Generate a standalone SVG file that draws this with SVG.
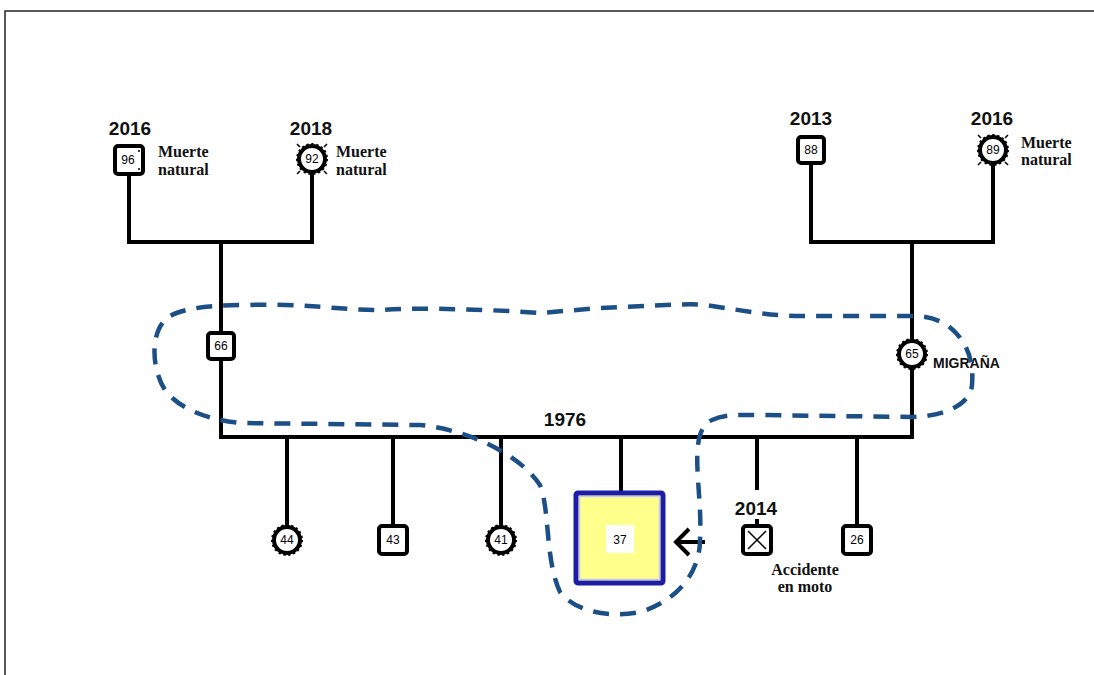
<svg xmlns="http://www.w3.org/2000/svg" width="1094" height="675" viewBox="0 0 1094 675">
<style>
.ln{stroke:#000;stroke-width:4;fill:none;stroke-linecap:square}
.sq{fill:#fff;stroke:#000;stroke-width:4}
.ci{fill:#fff;stroke:#000;stroke-width:4}
.cb{fill:none;stroke:#000;stroke-width:3;stroke-dasharray:2.2 2.6}
.num{font-family:"Liberation Sans",Arial,sans-serif;font-size:12px;text-anchor:middle;fill:#000}
.yr{font-family:"Liberation Sans",Arial,sans-serif;font-size:19px;font-weight:bold;text-anchor:middle;fill:#111}
.note{font-family:"Liberation Serif","Times New Roman",serif;font-size:16px;font-weight:bold;fill:#111}
.dash{fill:none;stroke:#1b4f86;stroke-width:4.5;stroke-dasharray:16 11}
.tick{stroke:#000;stroke-width:1.5}
</style>
<rect x="0" y="0" width="1094" height="675" fill="#fff"/>
<path d="M5,675 V11 H1094" fill="none" stroke="#222" stroke-width="1.5"/>
<g id="connectors">
<path class="ln" d="M129,174 V242 H312 V173"/>
<path class="ln" d="M221,242 V333"/>
<path class="ln" d="M221,359 V437 H912 V368"/>
<path class="ln" d="M811,163 V242 H993 V164"/>
<path class="ln" d="M912,242 V340"/>
<path class="ln" d="M287,437 V525"/>
<path class="ln" d="M393,437 V526"/>
<path class="ln" d="M501,437 V525"/>
<path class="ln" d="M621,437 V493"/>
<path class="ln" d="M757,437 V488"/>
<path class="ln" d="M757,521 V526"/>
<path class="ln" d="M857,437 V526"/>
</g>
<g id="g96">
<text class="yr" x="130" y="135">2016</text>
<rect class="sq" x="115" y="146" width="28" height="28" rx="3"/>
<text class="num" x="128" y="164">96</text>
<circle cx="139" cy="151" r="1" fill="#000"/><circle cx="139" cy="169" r="1" fill="#000"/>
<text class="note" x="158" y="157">Muerte</text>
<text class="note" x="158" y="175">natural</text>
</g>
<g id="g92">
<text class="yr" x="311" y="135">2018</text>
<circle class="ci" cx="312" cy="159" r="13"/>
<circle class="cb" cx="312" cy="159" r="14.5"/>
<path class="tick" d="M297,144 l3,3 M327,144 l-3,3 M297,174 l3,-3 M327,174 l-3,-3"/>
<text class="num" x="312" y="163">92</text>
<text class="note" x="336" y="157">Muerte</text>
<text class="note" x="336" y="175">natural</text>
</g>
<g id="g88">
<text class="yr" x="811" y="125">2013</text>
<rect class="sq" x="798" y="137" width="26" height="26" rx="3"/>
<text class="num" x="811" y="154">88</text>
</g>
<g id="g89">
<text class="yr" x="992" y="125">2016</text>
<circle class="ci" cx="993" cy="150" r="13"/>
<circle class="cb" cx="993" cy="150" r="14.5"/>
<path class="tick" d="M978,135 l3,3 M1008,135 l-3,3 M978,165 l3,-3 M1008,165 l-3,-3"/>
<text class="num" x="993" y="154">89</text>
<text class="note" x="1021" y="148">Muerte</text>
<text class="note" x="1021" y="165">natural</text>
</g>
<g id="g66">
<rect class="sq" x="208" y="333" width="26" height="26" rx="3"/>
<text class="num" x="221" y="350">66</text>
</g>
<g id="g65">
<circle class="ci" cx="912" cy="354" r="13"/>
<circle class="cb" cx="912" cy="354" r="14.5"/>
<text class="num" x="912" y="358">65</text>
<text x="933" y="368" font-family="'Liberation Sans',Arial,sans-serif" font-size="14" font-weight="bold" fill="#111">MIGRAÑA</text>
</g>
<g id="marriage">
<text class="yr" x="565" y="426">1976</text>
</g>
<g id="g44">
<circle class="ci" cx="287" cy="540" r="13"/>
<circle class="cb" cx="287" cy="540" r="14.5"/>
<text class="num" x="287" y="544">44</text>
</g>
<g id="g43">
<rect class="sq" x="379" y="526" width="28" height="28" rx="3"/>
<text class="num" x="393" y="544">43</text>
</g>
<g id="g41">
<circle class="ci" cx="501" cy="540" r="13"/>
<circle class="cb" cx="501" cy="540" r="14.5"/>
<text class="num" x="501" y="544">41</text>
</g>
<g id="g37">
<rect x="576" y="493" width="87" height="90" rx="2" fill="#ffff8c" stroke="#1c1ca8" stroke-width="5"/>
<rect x="579.5" y="496.5" width="80" height="83" fill="none" stroke="#c8c8f0" stroke-width="1.5"/>
<rect x="606" y="525" width="28" height="28" fill="#fff"/>
<text class="num" x="620" y="544">37</text>
<path d="M705,542 H676 M689,529 L676,542 L689,555" fill="none" stroke="#000" stroke-width="4"/>
</g>
<g id="g2014">
<text class="yr" x="756" y="515">2014</text>
<rect class="sq" x="743" y="526" width="28" height="28" rx="3"/>
<path d="M748,531 L766,549 M766,531 L748,549" stroke="#000" stroke-width="1.5"/>
<text class="note" x="805" y="575" text-anchor="middle">Accidente</text>
<text class="note" x="805" y="592" text-anchor="middle">en moto</text>
</g>
<g id="g26">
<rect class="sq" x="843" y="526" width="28" height="28" rx="3"/>
<text class="num" x="857" y="544">26</text>
</g>
<g id="household">
<path class="dash" d="M712,420 C725,414 740,415 760,415 L912,417 C945,416 970,405 972,385 C974,360 967,340 947,325 C935,318 925,316 912,316 L800,316 C770,316 740,310 705,305 C690,303 650,306 600,308 L540,313 C500,310 420,307 380,310 C340,310 300,303 250,305 C200,305 175,310 165,320 C150,335 152,370 165,390 C180,410 210,420 240,423 L420,425 C470,430 520,455 540,485 C550,510 545,560 560,592 C575,612 610,618 640,612 C680,600 700,570 700,540 C702,505 695,470 698,445 C700,430 705,423 712,420 Z"/>
</g>
</svg>
